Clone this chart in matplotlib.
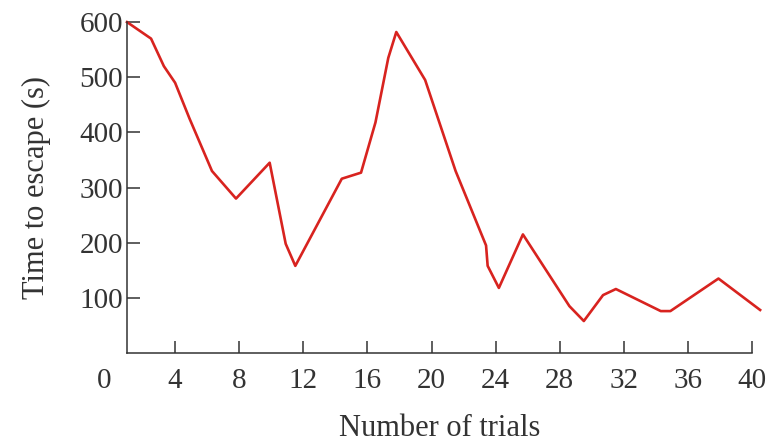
import matplotlib
matplotlib.use('Agg')
from matplotlib import pyplot as plt

# 逃逸时间随试验次数的变化
trials = [1, 2.5, 3.3, 4, 4.9, 6.3, 7.8, 9.9, 10.9, 11.5, 14.4, 15.6, 16.5, 17.3, 17.8,
          19.6, 21.5, 23.4, 23.5, 24.2, 25.7, 28.6, 29.5, 30.7, 31.5, 34.3, 34.9, 37.9, 40.5]
escape_time = [600, 570, 520, 490, 425, 330, 280, 345, 198, 158, 316, 327, 418, 535, 582,
               495, 330, 195, 158, 118, 215, 85, 58, 105, 116, 76, 76, 135, 78]
xticks = [4, 8, 12, 16, 20, 24, 28, 32, 36, 40]
yticks = [100, 200, 300, 400, 500, 600]

plt.rcParams['font.family'] = ['Liberation Serif', 'DejaVu Serif']
fig = plt.figure(figsize=(7.67, 4.46), dpi=100)
ax = fig.add_axes([0.1656, 0.2085, 0.815, 0.742])
ax.plot(trials, escape_time, color='#d8231f', linewidth=1.9, clip_on=False,
        solid_joinstyle='round')

ax.set_xlim(1, 40)
ax.set_ylim(0, 600)
ax.set_xticks(xticks)
ax.set_yticks(yticks)
for s in ['top', 'right']:
    ax.spines[s].set_visible(False)
for s in ['left', 'bottom']:
    ax.spines[s].set_color('#333333')
    ax.spines[s].set_linewidth(1.1)
ax.tick_params(direction='in', length=9, width=1.1, color='#333333',
               labelsize=21, labelcolor='#333333')
ax.tick_params(axis='x', pad=11)
ax.tick_params(axis='y', pad=3)
ax.text(-0.4, -28, '0', ha='center', va='top', fontsize=21, color='#333333', clip_on=False)

ax.set_xlabel('Number of trials', fontsize=22, color='#333333', labelpad=14)
ax.set_ylabel('Time to escape (s)', fontsize=22, color='#333333', labelpad=20)

fig.savefig('out.png', dpi=100)
